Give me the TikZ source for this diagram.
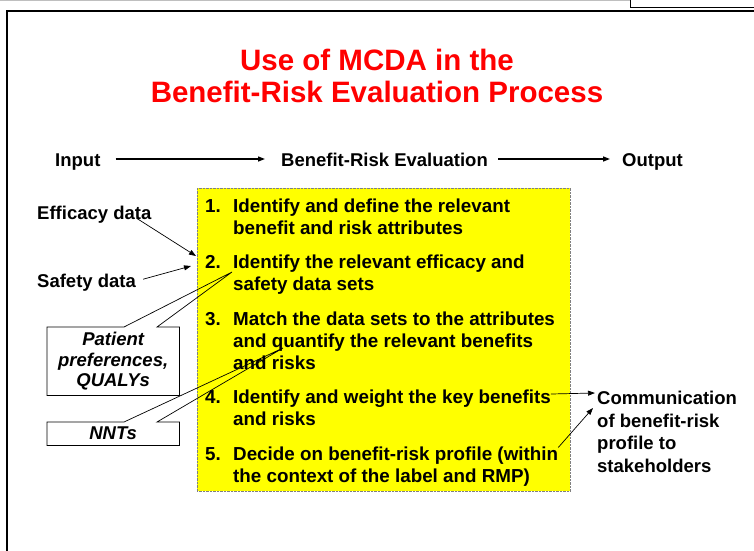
\documentclass[tikz,border=0pt]{standalone}
\usepackage{fontspec}
\setmainfont{Liberation Sans}
\usetikzlibrary{arrows.meta,positioning}
\definecolor{titlered}{RGB}{255,0,0}
\definecolor{boxyellow}{RGB}{255,255,0}

\begin{document}
\begin{tikzpicture}[x=1pt,y=-1pt,>={Triangle[length=7pt,width=5pt]},
    txt/.style={font=\fontsize{18.5}{22}\selectfont\bfseries,inner sep=0pt,align=left},
    steptext/.style={txt,font=\fontsize{18.8}{22}\selectfont\bfseries},
    hdr/.style={txt,text height=14pt,text depth=0pt},
    note/.style={font=\fontsize{18.5}{20.5}\selectfont\bfseries\itshape,inner sep=0pt,align=center},
    link/.style={line width=0.7pt}]
    \useasboundingbox (0,0) rectangle (754,550);
    % frame
    \draw[gray!50,line width=1pt] (0,0.5) -- (630,0.5);
    \draw[line width=1pt] (630,0) |- (754,7);
    \draw[line width=2pt] (7,551) |- (755,11);
    \node[font=\fontsize{29.5}{32}\selectfont\bfseries,text=titlered,align=center] (title) at (377,76)
      {Use of MCDA in the\\Benefit-Risk Evaluation Process};
    \node[hdr,anchor=base west] (input) at (55,166) {Input};
    \node[hdr,anchor=base west] (bre) at (281,166) {Benefit-Risk Evaluation};
    \node[hdr,anchor=base west] (output) at (622,166) {Output};
    \draw[->,line width=1.3pt,shorten <=15pt,shorten >=16pt] (input) -- (bre);
    \draw[->,line width=1.3pt,shorten <=10pt,shorten >=12pt] (bre) -- (output);
    \node[draw=gray,densely dotted,fill=boxyellow,inner sep=0pt,minimum width=373pt,
      minimum height=303pt,anchor=north west] (evalbox) at (197,188) {};
    % numbered steps, number hangs left of the text
    \foreach \n/\y/\body in {1/198.5/{Identify and define the relevant\\benefit and risk attributes},
        2/255/{Identify the relevant efficacy and\\safety data sets},
        3/311.5/{Match the data sets to the attributes\\and quantify the relevant benefits\\and risks},
        4/390/{Identify and weight the key benefits\\and risks},
        5/446.5/{Decide on benefit-risk profile (within\\the context of the label and RMP)}}
      \node[steptext,anchor=north west] (step\n) at (233,\y) {\llap{\makebox[28pt][l]{\n.}}\body};
    \node[txt,anchor=base west] (efficacy) at (37,219) {Efficacy data};
    \node[txt,anchor=base west] (safety) at (37,287) {Safety data};
    \coordinate (effin) at (196,256);
    \coordinate (safin) at (191,266);
    \draw[->,link] ([xshift=-15pt,yshift=-4pt]efficacy.east) -- (effin);
    \draw[->,link] ([xshift=7pt,yshift=3pt]safety.east) -- (safin);
    \node[note,minimum width=132pt,minimum height=68pt,anchor=north west] (prefs) at (47,327)
      {Patient\\preferences,\\QUALYs};
    \node[note,minimum width=132pt,minimum height=23pt,anchor=north west] (nnts) at (47,422) {NNTs};
    \coordinate (prefstip) at (232,272);
    \coordinate (nntstip) at (283,348);
    \draw[link] ([xshift=77pt]prefs.north west) -- (prefstip) -- ([xshift=110pt]prefs.north west)
      -| (prefs.south east) -| (prefs.north west) -- cycle;
    \draw[link] ([xshift=77pt]nnts.north west) -- (nntstip) -- ([xshift=110pt]nnts.north west)
      -| (nnts.south east) -| (nnts.north west) -- cycle;
    \node[txt,font=\fontsize{18.5}{22.5}\selectfont\bfseries,anchor=north west] (comm) at (597,391)
      {Communication\\of benefit-risk\\profile to\\stakeholders};
    \draw[->,link] ([yshift=-4pt]step4.north east) -- ([xshift=-2pt,yshift=-2pt]comm.north west);
    \draw[->,link] ([yshift=-1pt]step5.north east) -- ([xshift=-4pt,yshift=-17pt]comm.north west);
  \end{tikzpicture}
\end{document}
